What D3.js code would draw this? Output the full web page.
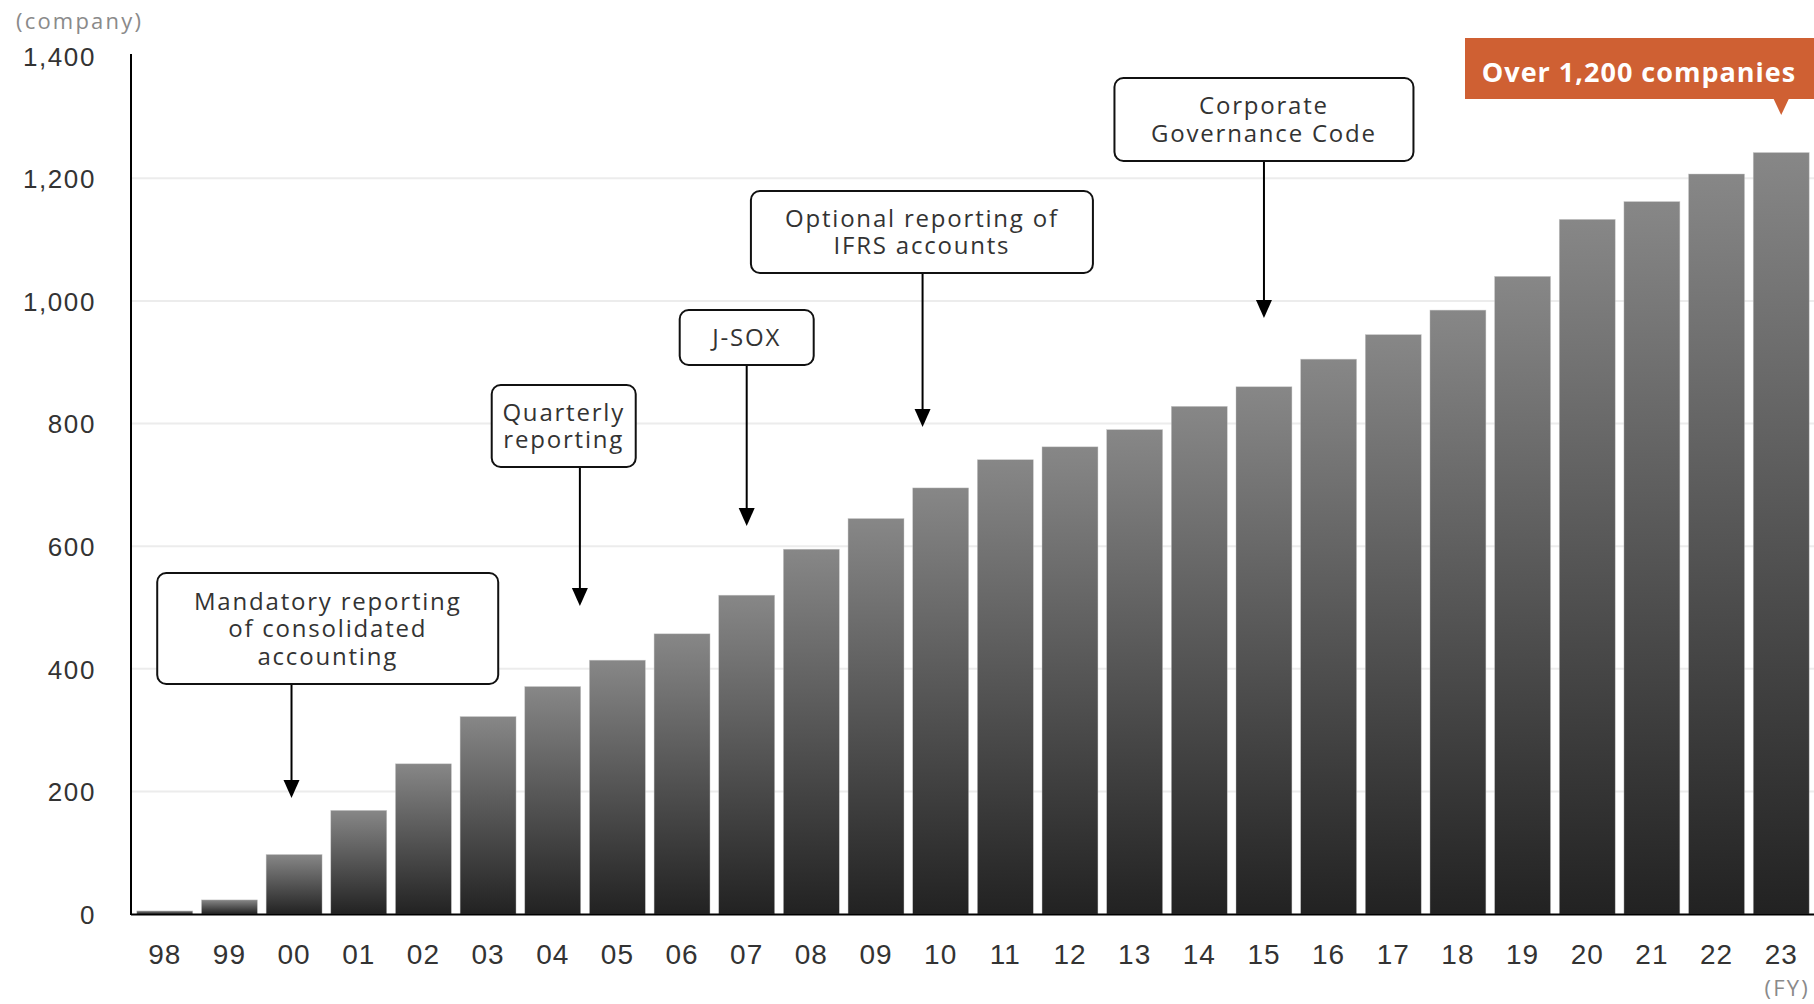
<!DOCTYPE html>
<html>
<head>
<meta charset="utf-8">
<script src="https://cdn.jsdelivr.net/npm/d3@7"></script>
<style>
  html, body { margin: 0; padding: 0; background: #fff; }
  svg { display: block; font-family: "Open Sans", "Noto Sans", sans-serif; }
</style>
</head>
<body>
<svg id="chart" width="1814" height="1004"></svg>
<script>
// Fiscal years and number of companies per year
const years = ["98","99","00","01","02","03","04","05","06","07","08","09","10","11","12","13","14","15","16","17","18","19","20","21","22","23"];
const companies = [5, 23, 97, 169, 245, 322, 371, 414, 457, 520, 595, 645, 695, 741, 762, 790, 828, 860, 905, 945, 985, 1040, 1133, 1162, 1207, 1242];
const yTicks = [0, 200, 400, 600, 800, 1000, 1200, 1400];
const gridTicks = [200, 400, 600, 800, 1000, 1200];

// Regulatory milestones pointed at the bars
const milestoneText = [
  ["Mandatory reporting", "of consolidated", "accounting"],
  ["Quarterly", "reporting"],
  ["J-SOX"],
  ["Optional reporting of", "IFRS accounts"],
  ["Corporate", "Governance Code"]
];
const milestoneYears = ["00", "04", "07", "10", "15"];
const calloutText = "Over 1,200 companies";
const calloutYear = "23";

// Layout of milestone boxes: shift in band steps for box centre and arrow,
// box top / width / height and arrow tip (px)
const milestoneLayout = [
  { boxShift: 0.52, arrowShift: -0.04, top: 573, w: 341, h: 111, tip: 798 },
  { boxShift: 0.17, arrowShift: 0.42,  top: 385, w: 144, h: 82,  tip: 606 },
  { boxShift: 0.0,  arrowShift: 0.0,   top: 310, w: 134, h: 55,  tip: 526 },
  { boxShift: -0.29, arrowShift: -0.28, top: 191, w: 342, h: 82, tip: 427 },
  { boxShift: 0.0,  arrowShift: 0.0,   top: 78,  w: 299, h: 83,  tip: 318 }
];

const svg = d3.select("#chart");
const left = 131, right = 1815, baseY = 914, topY = 55.7;

const x = d3.scaleBand().domain(years).range([left, right]).paddingInner(0.135).paddingOuter(0.09);
const y = d3.scaleLinear().domain([0, 1400]).range([baseY, topY]);
const step = x.step(), bw = x.bandwidth();
const cx = (yr, shift) => x(yr) + bw / 2 + (shift || 0) * step;

// bar gradient: light grey top to near-black bottom
const defs = svg.append("defs");
const grad = defs.append("linearGradient").attr("id", "barGrad")
  .attr("x1", 0).attr("y1", 0).attr("x2", 0).attr("y2", 1);
grad.append("stop").attr("offset", "0%").attr("stop-color", "#878787");
grad.append("stop").attr("offset", "100%").attr("stop-color", "#222222");

// horizontal gridlines
svg.append("g").selectAll("line").data(gridTicks).join("line")
  .attr("x1", left).attr("x2", 1814)
  .attr("y1", d => y(d)).attr("y2", d => y(d))
  .attr("stroke", "#ececec").attr("stroke-width", 2);

// bars
svg.append("g").selectAll("rect").data(companies).join("rect")
  .attr("x", (d, i) => x(years[i]))
  .attr("y", d => y(d))
  .attr("width", bw)
  .attr("height", d => baseY - y(d))
  .attr("fill", "url(#barGrad)")
  .attr("stroke", "#c4c4c4").attr("stroke-width", 0.6).attr("stroke-opacity", 0.7);

// y axis
const yAxis = d3.axisLeft(y).tickValues(yTicks).tickSize(0).tickPadding(35)
  .tickFormat(d3.format(","));
const gy = svg.append("g").attr("transform", `translate(${left},0)`).call(yAxis);
gy.select(".domain").remove();
gy.selectAll("text").attr("font-size", 26).attr("fill", "#333")
  .attr("letter-spacing", 1.6).attr("dy", "0.36em");
svg.append("line").attr("x1", left).attr("x2", left).attr("y1", 54).attr("y2", baseY + 1)
  .attr("stroke", "#000").attr("stroke-width", 2);

// x axis
const xAxis = d3.axisBottom(x).tickSize(0).tickPadding(30);
const gx = svg.append("g").attr("transform", `translate(0,${baseY})`).call(xAxis);
gx.select(".domain").remove();
gx.selectAll("text").attr("font-size", 28).attr("fill", "#333").attr("letter-spacing", 1)
  .attr("dy", "0.71em");
svg.append("line").attr("x1", left).attr("x2", 1814).attr("y1", baseY + 0.5).attr("y2", baseY + 0.5)
  .attr("stroke", "#000").attr("stroke-width", 2);

// unit labels
svg.append("text").attr("x", 16).attr("y", 29).attr("font-size", 22).attr("fill", "#8a8a8a")
  .attr("letter-spacing", 2.2).text("(company)");
svg.append("text").attr("x", 1810).attr("y", 996).attr("text-anchor", "end")
  .attr("font-size", 22).attr("fill", "#8a8a8a").attr("letter-spacing", 2.2).text("(FY)");

// milestone boxes and arrows
const lineGap = 27.5;
milestoneText.forEach((lines, i) => {
  const L = milestoneLayout[i], yr = milestoneYears[i];
  const bx = cx(yr, L.boxShift), ax = cx(yr, L.arrowShift);
  const g = svg.append("g");
  const bottom = L.top + L.h;
  g.append("line").attr("x1", ax).attr("x2", ax).attr("y1", bottom).attr("y2", L.tip - 16)
    .attr("stroke", "#000").attr("stroke-width", 2);
  g.append("path")
    .attr("d", `M${ax - 8},${L.tip - 18} L${ax + 8},${L.tip - 18} L${ax},${L.tip} Z`)
    .attr("fill", "#000");
  g.append("rect").attr("x", bx - L.w / 2).attr("y", L.top).attr("width", L.w).attr("height", L.h)
    .attr("rx", 9).attr("fill", "#fff").attr("stroke", "#111").attr("stroke-width", 2);
  const midY = L.top + L.h / 2;
  const txt = g.append("text").attr("text-anchor", "middle")
    .attr("font-size", 24).attr("letter-spacing", 1.8).attr("fill", "#333");
  lines.forEach((t, k) => {
    txt.append("tspan").attr("x", bx)
      .attr("y", midY + (k - (lines.length - 1) / 2) * lineGap)
      .attr("dy", "0.36em").text(t);
  });
});

// highlighted callout above the latest bar
const px = cx(calloutYear);
const cg = svg.append("g");
cg.append("rect").attr("x", 1465).attr("y", 38).attr("width", 360).attr("height", 61)
  .attr("fill", "#cf6033");
cg.append("path").attr("d", `M${px - 8},98 L${px + 8},98 L${px},115 Z`).attr("fill", "#cf6033");
cg.append("text").attr("x", 1639).attr("y", 72).attr("dy", "0.36em").attr("text-anchor", "middle")
  .attr("font-size", 27).attr("font-weight", 700).attr("fill", "#fff").attr("letter-spacing", 1)
  .text(calloutText);
</script>
</body>
</html>
